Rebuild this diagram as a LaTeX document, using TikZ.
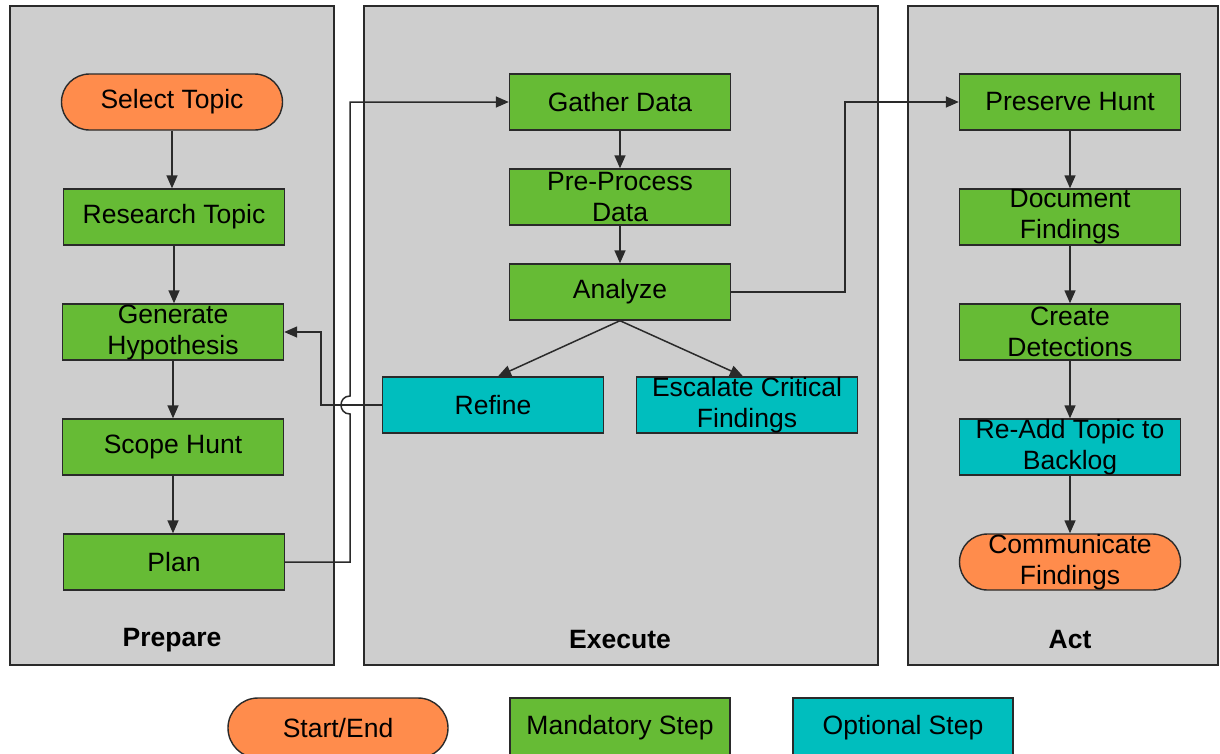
\documentclass[tikz,border=0pt]{standalone}
\usepackage{fontspec}
\setmainfont{Liberation Sans}
\usetikzlibrary{arrows.meta}
\definecolor{orangeC}{HTML}{FF8C4C}
\definecolor{greenC}{HTML}{66BB35}
\definecolor{tealC}{HTML}{00BEBE}
\definecolor{panelC}{HTML}{CECECE}
\definecolor{edgeC}{HTML}{2A2A2A}
\begin{document}
\begin{tikzpicture}[x=1pt,y=-1pt,
 panel/.style={draw=edgeC, line width=1.3pt, fill=panelC},
 box/.style={draw=edgeC, line width=1.4pt, minimum width=221pt, minimum height=56pt, inner sep=0pt, align=center, font=\fontsize{26.5}{31}\selectfont},
 mand/.style={box, fill=greenC},
 opt/.style={box, fill=tealC},
 term/.style={box, fill=orangeC, rounded corners=28pt},
 conn/.style={draw=edgeC, line width=1.5pt, -{Triangle[length=13pt,width=11pt]}},
 plabel/.style={font=\fontsize{26.5}{31}\selectfont\bfseries}]
\useasboundingbox (0,0) rectangle (1220,753);
\clip (0,0) rectangle (1220,753);
\fill[white] (0,0) rectangle (1220,753);
% panels
\draw[panel] (10,6) rectangle (334,665);
\draw[panel] (364,6) rectangle (878,665);
\draw[panel] (908,6) rectangle (1218,665);
\node[plabel] (lp) at (172,640) {Prepare};
\node[plabel] (le) at (620,640) {Execute};
\node[plabel] (la) at (1070,640) {Act};
% prepare
\node[term] (sel) at (172,102) {Select Topic};
\node[mand] (res) at (174,217) {Research Topic};
\node[mand] (gen) at (173,332) {Generate\\Hypothesis};
\node[mand] (scope) at (173,447) {Scope Hunt};
\node[mand] (plan) at (174,562) {Plan};
% execute
\node[mand] (gather) at (620,102) {Gather Data};
\node[mand] (pre) at (620,197) {Pre-Process\\Data};
\node[mand] (ana) at (620,292) {Analyze};
\node[opt] (ref) at (493,405) {Refine};
\node[opt] (esc) at (747,405) {Escalate Critical\\Findings};
% act
\node[mand] (pres) at (1070,102) {Preserve Hunt};
\node[mand] (doc) at (1070,217) {Document\\Findings};
\node[mand] (det) at (1070,332) {Create\\Detections};
\node[opt] (readd) at (1070,447) {Re-Add Topic to\\Backlog};
\node[term] (comm) at (1070,562) {Communicate\\Findings};
% legend
\node[term, minimum height=60pt, minimum width=220pt, rounded corners=30pt] (lse) at (338,728) {Start/End};
\node[mand, minimum height=60pt, minimum width=220pt] (lms) at (620,728) {Mandatory Step};
\node[opt, minimum height=60pt, minimum width=220pt] (los) at (903,728) {Optional Step};
% connectors
\draw[conn] (sel.south) -- (sel.south |- res.north);
\draw[conn] (res.south) -- (res.south |- gen.north);
\draw[conn] (gen.south) -- (gen.south |- scope.north);
\draw[conn] (scope.south) -- (scope.south |- plan.north);
\draw[conn] (gather.south) -- (gather.south |- pre.north);
\draw[conn] (pre.south) -- (pre.south |- ana.north);
\draw[conn] (ana.south) -- ([xshift=5pt]ref.north);
\draw[conn] (ana.south) -- ([xshift=-4pt]esc.north);
\draw[conn] (pres.south) -- (pres.south |- doc.north);
\draw[conn] (doc.south) -- (doc.south |- det.north);
\draw[conn] (det.south) -- (det.south |- readd.north);
\draw[conn] (readd.south) -- (readd.south |- comm.north);
\coordinate (hopA) at (350,414);
\coordinate (hopB) at (350,396);
\draw[conn] (plan.east) -- (plan.east -| hopA) -- (hopA) .. controls (338,414) and (338,396) .. (hopB) -- (hopB |- gather.west) -- (gather.west);
\coordinate (rbend) at (321,405);
\draw[conn] (ref.west) -- (rbend) -- (rbend |- gen.east) -- (gen.east);
\coordinate (abend) at (845,292);
\draw[conn] (ana.east) -- (abend) -- (abend |- pres.west) -- (pres.west);
\end{tikzpicture}
\end{document}
